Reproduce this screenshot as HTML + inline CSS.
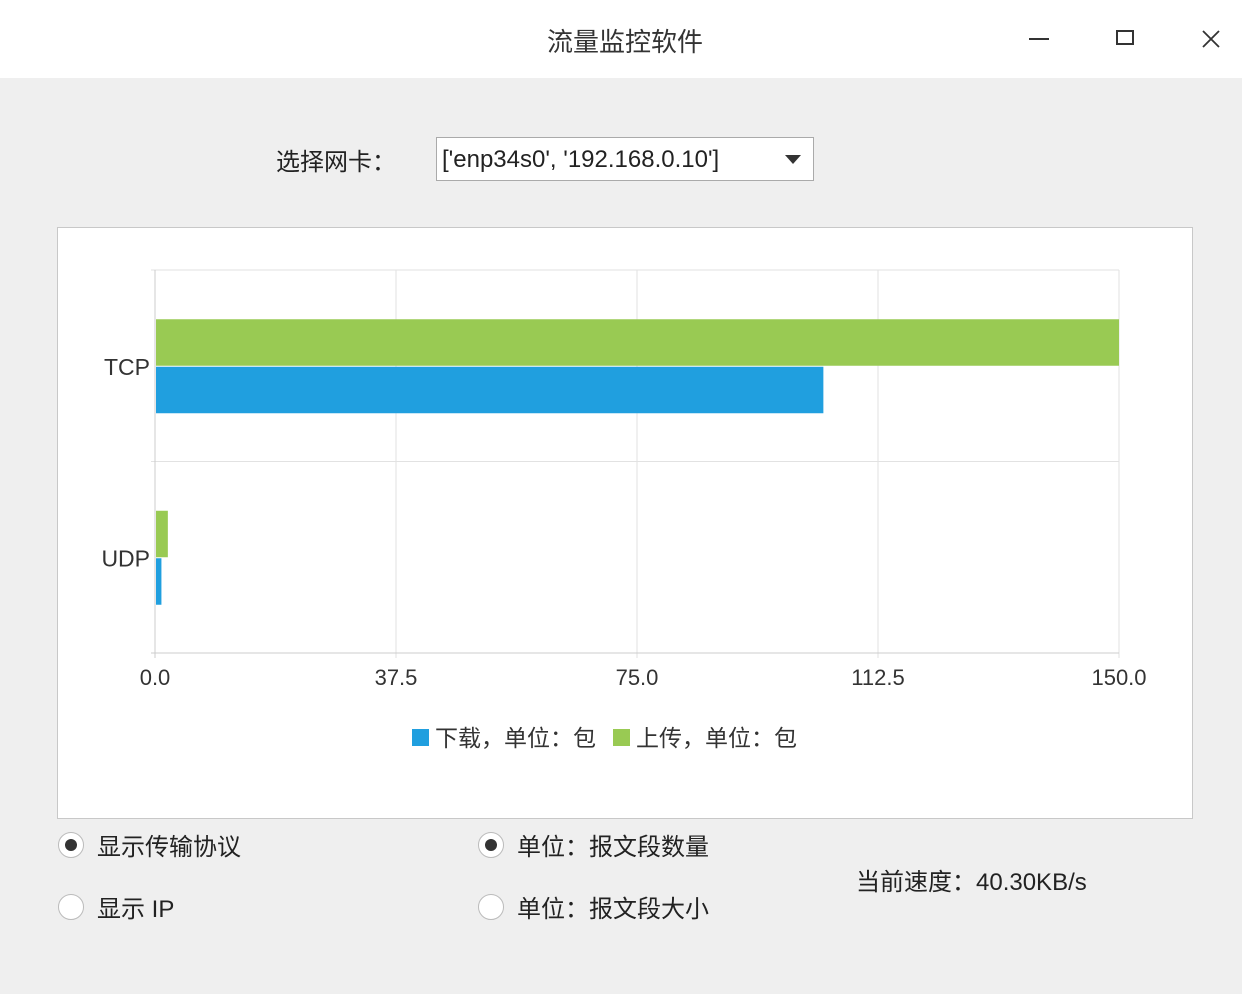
<!DOCTYPE html>
<html><head><meta charset="utf-8">
<style>
body{margin:0;width:1242px;height:994px;background:#efefef;font-family:"Liberation Sans","Noto Sans CJK SC",sans-serif;position:relative;overflow:hidden;color:#222}
.abs{position:absolute}
#titlebar{left:0;top:0;width:1242px;height:78px;background:#fff}
.radio{width:26px;height:26px;border-radius:50%;background:#fff;border:1px solid #bbb;box-sizing:border-box}
.radio.on::after{content:"";position:absolute;left:6px;top:6px;width:12px;height:12px;border-radius:50%;background:#333}
.lbl{font-size:24px;color:#222;white-space:nowrap}
</style></head><body>
<div id="titlebar" class="abs">
 <div class="abs" style="left:4px;width:1242px;top:22px;text-align:center;font-size:26px;color:#333">流量监控软件</div>
 <div class="abs" style="left:1029px;top:38px;width:20px;height:2px;background:#333"></div>
 <div class="abs" style="left:1116px;top:30px;width:18px;height:15px;border:2px solid #333;box-sizing:border-box"></div>
 <svg class="abs" style="left:1202px;top:30px" width="18" height="18"><path d="M1 1L17 17M17 1L1 17" stroke="#333" stroke-width="1.8"/></svg>
</div>
<div class="abs lbl" style="left:276px;top:142px">选择网卡：</div>
<div class="abs" style="left:436px;top:137px;width:378px;height:44px;background:#fff;border:1px solid #aaa;box-sizing:border-box">
 <span class="abs lbl" style="left:5px;top:8px">['enp34s0', '192.168.0.10']</span>
 <div class="abs" style="left:348px;top:17px;width:0;height:0;border-left:8px solid transparent;border-right:8px solid transparent;border-top:9px solid #333"></div>
</div>
<div class="abs" style="left:57px;top:227px;width:1136px;height:592px;background:#fff;border:1px solid #c8c8c8;box-sizing:border-box"></div>
<svg class="abs" style="left:0;top:0" width="1242" height="994" id="chart"></svg>
<div class="abs radio on" style="left:58px;top:832px"></div>
<div class="abs lbl" style="left:97px;top:827px">显示传输协议</div>
<div class="abs radio" style="left:58px;top:894px"></div>
<div class="abs lbl" style="left:97px;top:889px">显示 IP</div>
<div class="abs radio on" style="left:478px;top:832px"></div>
<div class="abs lbl" style="left:517px;top:827px">单位：报文段数量</div>
<div class="abs radio" style="left:478px;top:894px"></div>
<div class="abs lbl" style="left:517px;top:889px">单位：报文段大小</div>
<div class="abs lbl" style="left:856px;top:862px">当前速度：40.30KB/s</div>
<script>
const categories=["TCP","UDP"];
const download=[104,1];
const upload=[150,2];
const ticks=[0,37.5,75,112.5,150];
const tickLabels=["0.0","37.5","75.0","112.5","150.0"];
const seriesNames=["下载，单位：包","上传，单位：包"];
const NS="http://www.w3.org/2000/svg";
const svg=document.getElementById('chart');
const X0=155,X1=1119,Y0=270,Y1=653,MAX=150;
const x=v=>X0+(v/MAX)*(X1-X0);
const band=(Y1-Y0)/categories.length;
function mk(t,a){const e=document.createElementNS(NS,t);for(const k in a)e.setAttribute(k,a[k]);svg.appendChild(e);return e;}
ticks.forEach((t,i)=>{
 const g=mk('line',{x1:x(t),x2:x(t),y1:Y0,y2:Y1+5,stroke:'#e2e2e2'});
 
 
 const l=mk('text',{x:x(t),y:Y1+32,'text-anchor':'middle','font-size':22,fill:'#333','font-family':'Liberation Sans, sans-serif'});
 l.textContent=tickLabels[i];
 
 
});
for(let i=0;i<=categories.length;i++){
 const g=mk('line',{x1:X0-4,x2:X1,y1:Y0+i*band,y2:Y0+i*band,stroke:i==categories.length?'#ccc':'#e2e2e2'});
 
 
}
const ax=mk('line',{x1:X0,x2:X0,y1:Y0,y2:Y1+5,stroke:'#ccc'});


const bh=46.5;
categories.forEach((c,i)=>{
 const cy=Y0+band*i+band/2;
 const t=mk('text',{x:X0-5,y:cy+9,'text-anchor':'end','font-size':23,fill:'#333','font-family':'Liberation Sans, sans-serif'});
 t.textContent=c;
 
 
 const u=mk('rect',{x:X0+1,y:cy-bh,width:x(upload[i])-X0-1,height:bh,fill:'#99ca53'});
 
 
 const d=mk('rect',{x:X0+1,y:cy+1,width:x(download[i])-X0-1,height:bh,fill:'#209fdf'});
 
 
});
const colors=['#209fdf','#99ca53'];
const lx=[412,613];
seriesNames.forEach((n,i)=>{
 const r=mk('rect',{x:lx[i],y:729,width:17,height:17,fill:colors[i]});
 
 
 const t=mk('text',{x:lx[i]+23,y:746,'font-size':23,fill:'#333','font-family':'Liberation Sans, Noto Sans CJK SC, sans-serif'});
 t.textContent=n;
 
 
});
</script>
</body></html>
